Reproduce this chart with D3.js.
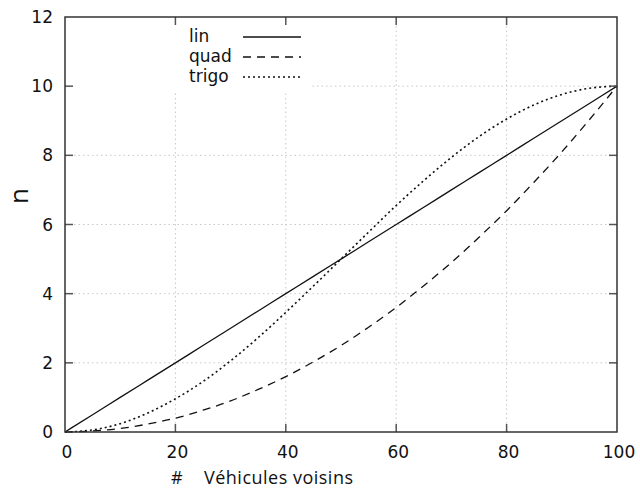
<!DOCTYPE html>
<html>
<head>
<meta charset="utf-8">
<script src="https://cdn.jsdelivr.net/npm/d3@7"></script>
<style>
  html, body { margin: 0; padding: 0; background: #fff; }
  svg { display: block; }
  .tick-label { font-family: "DejaVu Sans", sans-serif; font-size: 17px; fill: #111; }
  .key-label { font-family: "DejaVu Sans", sans-serif; font-size: 17px; fill: #111; }
  .title { font-family: "Open Sans", sans-serif; fill: #111; }
</style>
</head>
<body>
<div id="chart"></div>
<script>
const xs    = [0, 5, 10, 15, 20, 25, 30, 35, 40, 45, 50, 55, 60, 65, 70, 75, 80, 85, 90, 95, 100];
const lin   = [0, 0.5, 1, 1.5, 2, 2.5, 3, 3.5, 4, 4.5, 5, 5.5, 6, 6.5, 7, 7.5, 8, 8.5, 9, 9.5, 10];
const quad  = [0, 0.03, 0.1, 0.23, 0.4, 0.63, 0.9, 1.23, 1.6, 2.03, 2.5, 3.03, 3.6, 4.23, 4.9, 5.63, 6.4, 7.23, 8.1, 9.03, 10];
const trigo = [0, 0.06, 0.24, 0.55, 0.96, 1.46, 2.06, 2.73, 3.46, 4.22, 5, 5.78, 6.55, 7.27, 7.94, 8.54, 9.05, 9.46, 9.76, 9.94, 10];

const seriesNames = ["lin", "quad", "trigo"];
const xTicks = [0, 20, 40, 60, 80, 100];
const yTicks = [0, 2, 4, 6, 8, 10, 12];

(function() {
  const fullW = 640, fullH = 495;
  const pL = 65, pR = 617, pT = 17, pB = 432;

  const svg = d3.select("#chart").append("svg")
    .attr("width", fullW).attr("height", fullH);

  const x = d3.scaleLinear().domain([0, 100]).range([pL, pR]);
  const y = d3.scaleLinear().domain([0, 12]).range([pB, pT]);

  // grid
  const grid = svg.append("g")
    .attr("stroke", "#c8c8c8").attr("stroke-width", 1).attr("stroke-dasharray", "1.5,3");
  grid.selectAll(".gx").data(xTicks.slice(1, -1)).enter().append("line")
    .attr("x1", d => x(d)).attr("x2", d => x(d))
    .attr("y1", pT).attr("y2", pB);
  grid.selectAll(".gy").data(yTicks.slice(1, -1)).enter().append("line")
    .attr("x1", pL).attr("x2", pR)
    .attr("y1", d => y(d)).attr("y2", d => y(d));

  // key box hides grid behind it
  svg.append("rect")
    .attr("x", pL + 1).attr("y", pT + 1)
    .attr("width", 245).attr("height", 75)
    .attr("fill", "#fff");

  // curves
  const styles = {
    lin:   { dash: null,  w: 1.3 },
    quad:  { dash: "8,6", w: 1.3 },
    trigo: { dash: "2,3", w: 1.6 }
  };
  const seriesData = { lin, quad, trigo };

  const line = d3.line()
    .x((d, i) => x(xs[i]))
    .y(d => y(d))
    .curve(d3.curveMonotoneX);

  seriesNames.forEach(name => {
    svg.append("path")
      .datum(seriesData[name])
      .attr("fill", "none")
      .attr("stroke", "#111")
      .attr("stroke-width", styles[name].w)
      .attr("stroke-dasharray", styles[name].dash)
      .attr("d", line);
  });

  // inner ticks on all four sides
  const ticks = svg.append("g").attr("stroke", "#555").attr("stroke-width", 1.5);
  xTicks.slice(1, -1).forEach(t => {
    ticks.append("line").attr("x1", x(t)).attr("x2", x(t)).attr("y1", pB).attr("y2", pB - 8);
    ticks.append("line").attr("x1", x(t)).attr("x2", x(t)).attr("y1", pT).attr("y2", pT + 8);
  });
  yTicks.slice(1, -1).forEach(t => {
    ticks.append("line").attr("x1", pL).attr("x2", pL + 8).attr("y1", y(t)).attr("y2", y(t));
    ticks.append("line").attr("x1", pR).attr("x2", pR - 8).attr("y1", y(t)).attr("y2", y(t));
  });

  // frame
  svg.append("rect")
    .attr("x", pL).attr("y", pT)
    .attr("width", pR - pL).attr("height", pB - pT)
    .attr("fill", "none").attr("stroke", "#333").attr("stroke-width", 1.5);

  // tick labels
  svg.selectAll(".xl").data(xTicks).enter().append("text")
    .attr("class", "tick-label")
    .attr("x", d => x(d) + 2).attr("y", pB + 26)
    .attr("text-anchor", "middle")
    .text(d => d);
  svg.selectAll(".yl").data(yTicks).enter().append("text")
    .attr("class", "tick-label")
    .attr("x", pL - 12).attr("y", d => y(d))
    .attr("dy", "0.36em")
    .attr("text-anchor", "end")
    .text(d => d);

  // axis titles
  svg.append("text")
    .attr("class", "title")
    .attr("x", 171).attr("y", 484)
    .style("font-size", "18px")
    .text("#");
  svg.append("text")
    .attr("class", "title")
    .attr("x", 204).attr("y", 484)
    .style("font-size", "18px")
    .attr("textLength", 149)
    .text("Véhicules voisins");
  svg.append("text")
    .attr("class", "title")
    .attr("transform", "translate(28,196) rotate(-90)")
    .attr("text-anchor", "middle")
    .style("font-size", "26px")
    .text("n");

  // key
  const keyY = [37, 57, 77];
  seriesNames.forEach((name, i) => {
    svg.append("text")
      .attr("class", "key-label")
      .attr("x", 189).attr("y", keyY[i] + 5)
      .text(name);
    svg.append("line")
      .attr("x1", 243).attr("x2", 301)
      .attr("y1", keyY[i]).attr("y2", keyY[i])
      .attr("stroke", "#111")
      .attr("stroke-width", styles[name].w)
      .attr("stroke-dasharray", styles[name].dash);
  });
})();
</script>
</body>
</html>
